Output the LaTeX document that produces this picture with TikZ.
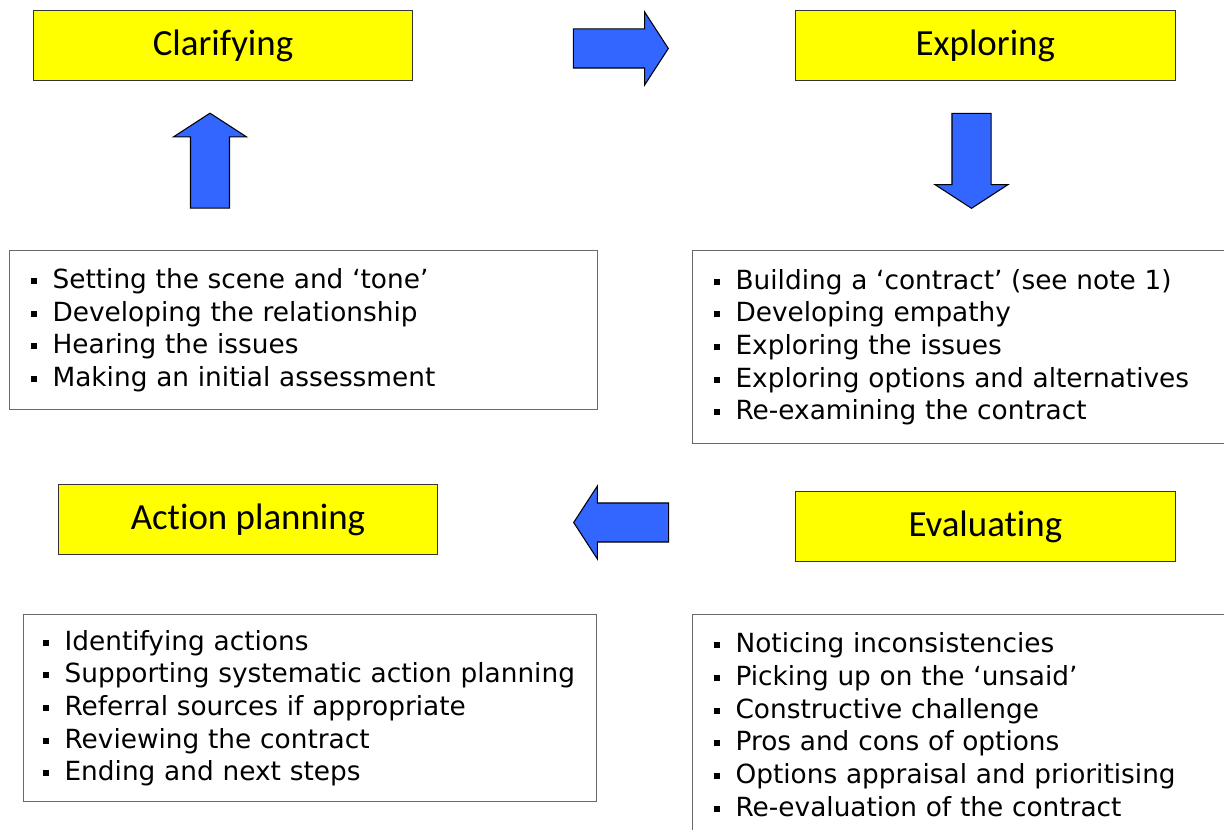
\documentclass[tikz,border=0pt]{standalone}
\usepackage{fontspec}
\setmainfont{DejaVu Sans}
\newfontfamily\headfont[Ligatures=NoCommon]{Carlito}
\usetikzlibrary{shapes.arrows}

\definecolor{stageyellow}{RGB}{255,255,0}
\definecolor{moveblue}{RGB}{51,102,255}
\definecolor{noteline}{RGB}{105,105,105}

% small square bullet and an invisible square that sets the shaft width
\newcommand{\bul}{\rule[0.165em]{0.23em}{0.23em}\hspace{0.6em}}
\newcommand{\shaft}{\phantom{\rule{0.76cm}{0.76cm}}}

\tikzstyle{stage} = [rectangle, minimum width=7.6cm, minimum height=1.4cm, inner sep=0pt, text centered, draw=black!80, line width=0.6pt, fill=stageyellow, font=\headfont\fontsize{21}{25}\selectfont]
\tikzstyle{notes} = [rectangle, anchor=north west, inner xsep=0.42cm, inner ysep=0pt, align=left, draw=noteline, line width=0.8pt, fill=white, font=\fontsize{15}{18.6}\selectfont]
\tikzstyle{move} = [single arrow, single arrow head extend=0.34cm, single arrow tip angle=114, minimum height=1.9cm, minimum width=0pt, inner sep=0pt, draw=black, line width=0.6pt, fill=moveblue]

\begin{document}
\begin{tikzpicture}[x=0.02cm, y=-0.02cm, node distance=15.25cm]
	\clip (0,0) rectangle (1224,830);

	\node (clar) [stage] at (223,45.5) {Clarifying};
	\node (expl) [stage, right of=clar] {Exploring};
	\node (eval) [stage, below of=expl, yshift=5.63cm] {Evaluating};
	\node (act) [stage, left of=eval, xshift=0.5cm, yshift=0.13cm] {Action planning};

	\node (clarnotes) [notes, text width=10.92cm, minimum height=3.18cm] at (9,250) {\bul Setting the scene and `tone'\\ \bul Developing the relationship\\ \bul Hearing the issues\\ \bul Making an initial assessment};
	\node (explnotes) [notes, text width=10.12cm, minimum height=3.86cm] at (692,250) {\bul Building a `contract' (see note 1)\\ \bul Developing empathy\\ \bul Exploring the issues\\ \bul Exploring options and alternatives\\ \bul Re-examining the contract};
	\node (actnotes) [notes, inner xsep=0.38cm, text width=10.70cm, minimum height=3.74cm] at (23,614) {\bul Identifying actions\\ \bul Supporting systematic action planning\\ \bul Referral sources if appropriate\\ \bul Reviewing the contract\\ \bul Ending and next steps};
	\node (evalnotes) [notes, text width=10.12cm, minimum height=4.4cm] at (692,614) {\bul Noticing inconsistencies\\ \bul Picking up on the `unsaid'\\ \bul Constructive challenge\\ \bul Pros and cons of options\\ \bul Options appraisal and prioritising\\ \bul Re-evaluation of the contract};

	\node (toexpl) [move] at (614.5,48.5) {\shaft};
	\node (toeval) [move, shape border rotate=270] at (971.5,154.5) {\shaft};
	\node (toact) [move, shape border rotate=180] at (627.5,522.5) {\shaft};
	\node (toclar) [move, shape border rotate=90] at (210,167) {\shaft};
\end{tikzpicture}
\end{document}
